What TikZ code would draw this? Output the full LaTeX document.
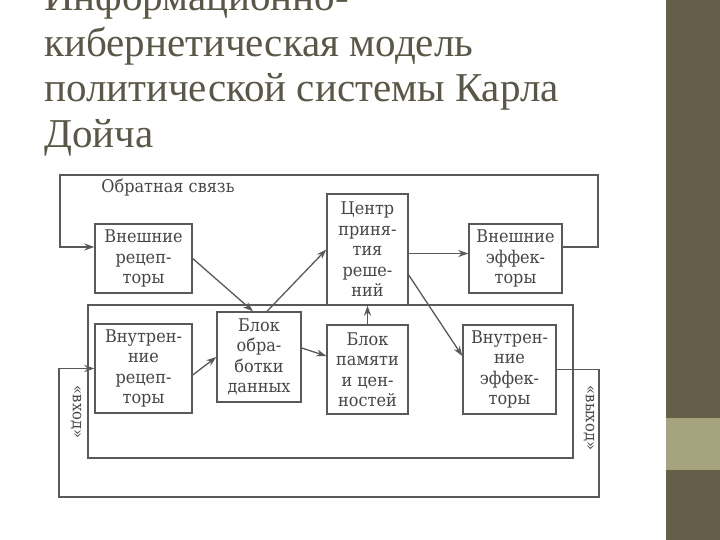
\documentclass[tikz,border=0pt]{standalone}
\usepackage{fontspec}
\setmainfont{Liberation Serif}
\newfontfamily\diagfont[FakeStretch=0.92]{DejaVu Serif}
\usetikzlibrary{arrows.meta, positioning, calc}
\definecolor{titlecol}{HTML}{5A5746}
\definecolor{bandcol}{HTML}{645D47}
\definecolor{bandlight}{HTML}{A6A47F}
\definecolor{linecol}{HTML}{595959}
\definecolor{textcol}{HTML}{464646}
\pgfdeclareradialshading{vignette}{\pgfpoint{0bp}{0bp}}{color(0bp)=(white); color(38bp)=(white); color(56bp)=(black!9); color(71bp)=(black!17)}

\begin{document}
\begin{tikzpicture}[x=1pt, y=-1pt,
  box/.style={draw=linecol, line width=1.4pt, fill=white, text=textcol, align=center, inner sep=0pt, font=\diagfont\fontsize{17.5}{20.5}\selectfont},
  arr/.style={draw=linecol, line width=1.3pt, -{Stealth[length=10pt, width=7pt]}},
  lbl/.style={text=textcol, inner sep=0pt},
  title/.style={text=titlecol, inner sep=0pt, anchor=base west, font=\fontsize{41}{45}\selectfont}]
\useasboundingbox (0,0) rectangle (720,540);
\clip (0,0) rectangle (720,540);
% slide background
\shade[shading=vignette] (0,0) rectangle (666,540);
\fill[bandcol] (666,0) rectangle (720,540);
\fill[bandlight] (666,418) rectangle (720,470);
% title
\node[title] (t1) at (44,11) {Информационно-};
\node[title] (t2) at (44,57) {кибернетическая модель};
\node[title] (t3) at (44,102) {политической системы Карла};
\node[title] (t4) at (44,148) {Дойча};
% inner frame
\draw[linecol, line width=1.4pt] (88,305) rectangle (573,458);
% blocks
\node[box, minimum width=97pt, minimum height=69pt] (vrec) at (143.5,258.5) {Внешние\\рецеп-\\торы};
\node[box, minimum width=81pt, minimum height=111pt] (centr) at (367.5,249.5) {Центр\\приня-\\тия\\реше-\\ний};
\node[box, minimum width=93pt, minimum height=69pt] (veff) at (515.5,258.5) {Внешние\\эффек-\\торы};
\node[box, minimum width=97pt, minimum height=89pt] (irec) at (143.5,368.5) {Внутрен-\\ние\\рецеп-\\торы};
\node[box, minimum width=84pt, minimum height=90pt] (obr) at (259,357) {Блок\\обра-\\ботки\\данных};
\node[box, minimum width=81pt, minimum height=89pt] (pam) at (367.5,369.5) {Блок\\памяти\\и цен-\\ностей};
\node[box, minimum width=93pt, minimum height=89pt] (ieff) at (509.5,369.5) {Внутрен-\\ние\\эффек-\\торы};
% labels
\node[lbl, font=\diagfont\fontsize{17.5}{17.5}\selectfont] (fb) at (168,188) {Обратная связь};
\node[lbl, rotate=-90, font=\diagfont\fontsize{16}{16}\selectfont] (vhod) at (76,412) {«вход»};
\node[lbl, rotate=-90, font=\diagfont\fontsize{16}{16}\selectfont] (vyhod) at (589,418) {«выход»};
% arrows between blocks
\draw[arr] (vrec.east) -- ([xshift=-6pt]obr.north);
\draw[arr] ([xshift=8pt]obr.north) -- (centr.west);
\draw[arr] ([yshift=-6.5pt]irec.east) -- (obr.west);
\draw[arr] ([yshift=9pt]obr.east) -- ([yshift=13.5pt]pam.west);
\draw[arr] (pam.north) -- (centr.south);
\draw[arr] ([yshift=-4pt]centr.east) -- ([yshift=-4pt]centr.east -| veff.west);
\draw[arr] ([yshift=-25.5pt]centr.east) -- ([yshift=13.5pt]ieff.west);
% feedback loop
\coordinate (fbR) at (598,175);
\coordinate (fbL) at (60,175);
\draw[arr] ([yshift=11.5pt]veff.east) -| (fbR) -- (fbL) |- ([yshift=11.5pt]vrec.west);
% input / output loop
\coordinate (ioR) at (599,497);
\coordinate (ioL) at (59,497);
\draw[arr] (ieff.east) -| (ioR) -- (ioL) |- (irec.west);
\end{tikzpicture}
\end{document}
